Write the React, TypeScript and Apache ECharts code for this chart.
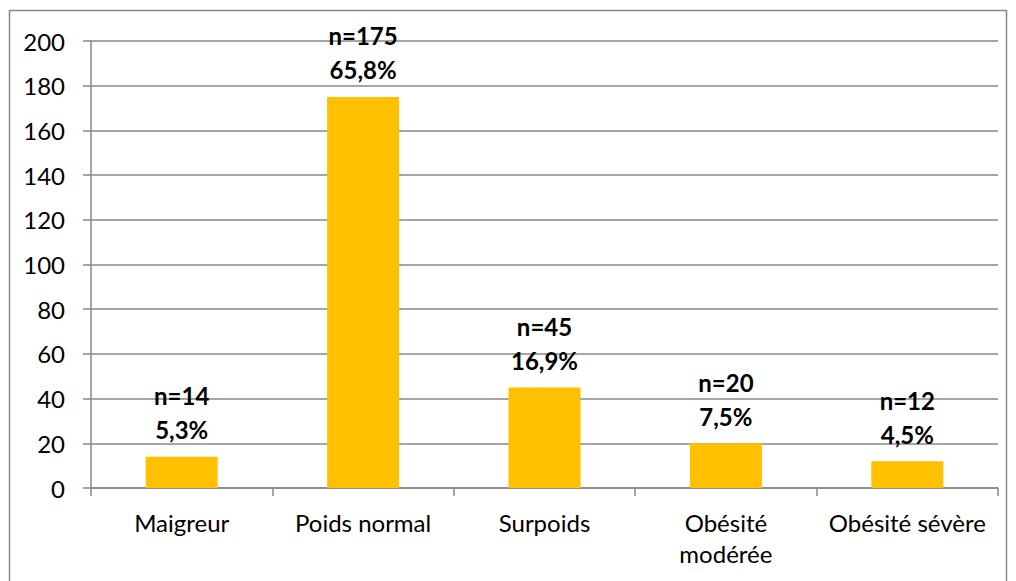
import React, { useEffect, useRef } from "react";
import * as echarts from "echarts";

const categories = ["Maigreur", "Poids normal", "Surpoids", "Obésité\nmodérée", "Obésité sévère"];
const counts = [14, 175, 45, 20, 12];
const percents = ["5,3%", "65,8%", "16,9%", "7,5%", "4,5%"];
const yTicks = { min: 0, max: 200, interval: 20 };

const FONT = "Lato, 'Open Sans', sans-serif";
const GRAY = "#878787";

export default function App() {
  const ref = useRef<HTMLDivElement>(null);
  useEffect(() => {
    if (!ref.current) return;
    const chart = echarts.init(ref.current, null, { renderer: "svg" });
    chart.setOption({
      animation: false,
      backgroundColor: "#ffffff",
      textStyle: { fontFamily: FONT },
      graphic: [
        {
          type: "rect",
          shape: { x: 9.5, y: 10.5, width: 997, height: 600 },
          style: { fill: "none", stroke: GRAY, lineWidth: 1.5 },
          silent: true,
          z: 0,
        },
      ],
      grid: { left: 91, right: 18, top: 41, bottom: 93, containLabel: false },
      xAxis: {
        type: "category",
        data: categories,
        axisLine: { lineStyle: { color: GRAY, width: 1.5 } },
        axisTick: { show: true, length: 8, lineStyle: { color: GRAY, width: 1.5 } },
        axisLabel: {
          color: "#000",
          fontSize: 24,
          fontFamily: FONT,
          margin: 19,
          lineHeight: 31,
          interval: 0,
        },
      },
      yAxis: {
        type: "value",
        min: yTicks.min,
        max: yTicks.max,
        interval: yTicks.interval,
        axisLine: { show: true, lineStyle: { color: GRAY, width: 1.5 } },
        axisTick: { show: true, length: 8, lineStyle: { color: GRAY, width: 1.5 } },
        splitLine: { show: true, lineStyle: { color: GRAY, width: 1.5 } },
        axisLabel: { color: "#000", fontSize: 24, fontFamily: FONT, margin: 26 },
      },
      series: [
        {
          type: "bar",
          data: counts,
          barWidth: 72,
          itemStyle: { color: "#FFC000" },
          label: {
            show: true,
            position: "top",
            distance: 10,
            color: "#000",
            fontWeight: "bold",
            fontSize: 24,
            fontFamily: FONT,
            lineHeight: 34,
            formatter: (p: any) => `n=${counts[p.dataIndex]}\n${percents[p.dataIndex]}`,
          },
        },
      ],
    });
    return () => chart.dispose();
  }, []);
  return (
    <div
      ref={ref}
      style={{ position: "fixed", left: 0, top: 0, width: 1016, height: 581, background: "#fff" }}
    />
  );
}
